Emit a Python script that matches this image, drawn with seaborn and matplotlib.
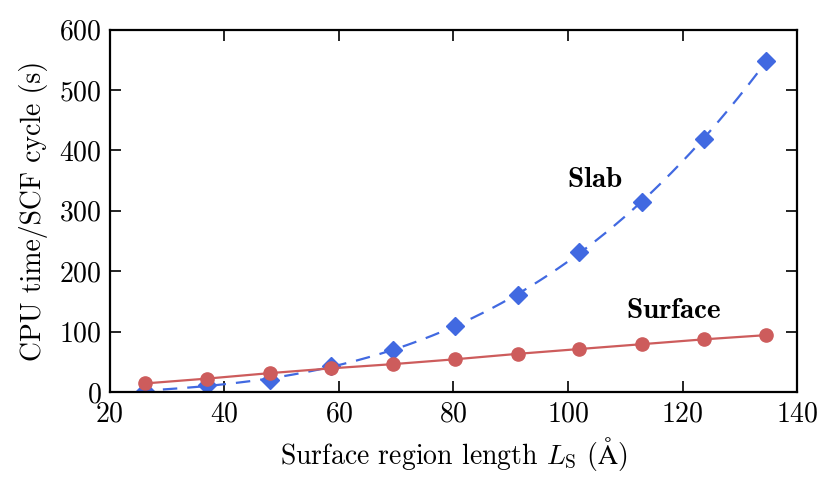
import numpy as np
import pandas as pd
import matplotlib
matplotlib.use("Agg")
import matplotlib.pyplot as plt
import seaborn as sns

# surface region length (Angstrom)
length = [26.2, 37.0, 47.9, 58.7, 69.5, 80.3, 91.2, 102.0, 112.9, 123.7, 134.6]
# CPU time per SCF cycle (s)
slab_time = [2, 11, 20, 43, 70, 109, 161, 232, 315, 419, 548]
surface_time = [14, 22, 31, 39, 46, 54, 63, 71, 79, 87, 94]

BLUE = "#4169E1"
RED = "#CD5C5C"

sns.set_style("ticks")
plt.rcParams["font.family"] = ["cmr10", "DejaVu Serif"]
plt.rcParams["mathtext.fontset"] = "cm"
plt.rcParams["axes.unicode_minus"] = False
plt.rcParams["axes.formatter.use_mathtext"] = True
for key in ["text.color", "axes.labelcolor", "xtick.color", "ytick.color"]:
    plt.rcParams[key] = "black"

df = pd.DataFrame({"L": length, "slab": slab_time, "surface": surface_time})

# cubic fit for the slab curve
coef = np.polyfit(df["L"], df["slab"], 3)
fit_x = np.linspace(25, df["L"].max(), 200)
fit = pd.DataFrame({"L": fit_x, "slab": np.polyval(coef, fit_x)})

fig = plt.figure(figsize=(8.32, 4.88), dpi=100)
ax = fig.add_axes([0.132, 0.197, 0.826, 0.742])

ax.plot(fit["L"], fit["slab"], color=BLUE, lw=1.6, dashes=(6.5, 4.5))
ax.plot(df["L"], df["slab"], ls="none", marker="D", ms=9.5, color=BLUE)
ax.plot(df["L"], df["surface"], color=RED, lw=1.6, marker="o", ms=9.5)

ax.text(104.7, 351, r"$\mathbf{Slab}$", fontsize=21, ha="center", va="center")
ax.text(118.5, 134, r"$\mathbf{Surface}$", fontsize=21, ha="center", va="center")

ax.set_xlim(20, 140)
ax.set_ylim(0, 600)
ax.set_xticks(range(20, 141, 20))
ax.set_yticks(range(0, 601, 100))
ax.tick_params(direction="in", length=8, width=1.2, top=True, right=True,
               labelsize=20)
ax.tick_params(axis="x", pad=7)
ax.tick_params(axis="y", pad=6)
for s in ax.spines.values():
    s.set_linewidth(1.6)
    s.set_color("black")

ax.set_xlabel(r"Surface region length $L_\mathrm{S}$ ($\mathrm{\AA}$)", fontsize=20, labelpad=5)
ax.set_ylabel("CPU time/SCF cycle (s)", fontsize=20, labelpad=8)

fig.savefig("out.png", dpi=100)
